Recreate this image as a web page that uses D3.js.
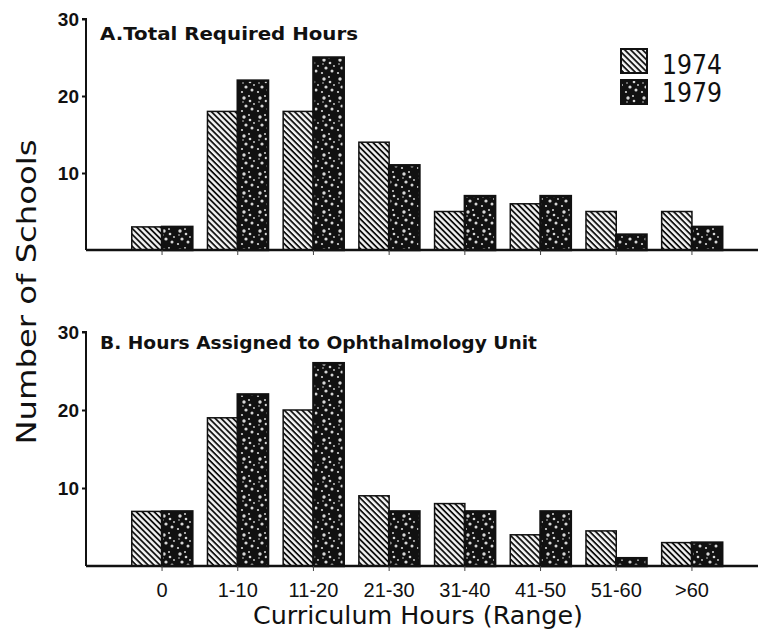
<!DOCTYPE html>
<html><head><meta charset="utf-8">
<script src="https://cdn.jsdelivr.net/npm/d3@7"></script>
<style>body{margin:0;background:#fff;}svg{display:block;font-family:"Century Gothic","DejaVu Sans",sans-serif;}</style>
</head><body>
<script>
const categories = ["0","1-10","11-20","21-30","31-40","41-50","51-60",">60"];
const series = ["1974","1979"];
const totalRequired1974 = [3,18,18,14,5,6,5,5];
const totalRequired1979 = [3,22,25,11,7,7,2,3];
const ophthalmology1974 = [7,19,20,9,8,4,4.5,3];
const ophthalmology1979 = [7,22,26,7,7,7,1,3];
const yTicks = [10,20,30];
const panelTitles = ["A.Total Required Hours","B. Hours Assigned to Ophthalmology Unit"];

const W=760,H=634;
const svg=d3.select("body").append("svg").attr("width",W).attr("height",H);
const defs=svg.append("defs");
const hatch=defs.append("pattern").attr("id","hatch").attr("patternUnits","userSpaceOnUse")
  .attr("width",4.2).attr("height",4.2).attr("patternTransform","rotate(45)");
hatch.append("rect").attr("width",4.2).attr("height",4.2).attr("fill","#f4f4f4");
hatch.append("rect").attr("width",4.2).attr("height",1.8).attr("fill","#111");
const speck=defs.append("pattern").attr("id","speck").attr("patternUnits","userSpaceOnUse")
  .attr("width",16).attr("height",19);
speck.append("rect").attr("width",16).attr("height",19).attr("fill","#111");
[[4,3,1.7],[10,6,1.3],[6,11,1.6],[12,14,1.5],[2,16,1.1],[9,1,1],[14,9,0.9],[3,7,0.8]].forEach(d=>{
  speck.append("circle").attr("cx",d[0]).attr("cy",d[1]).attr("r",d[2]).attr("fill","#d8d8d8");
});

const x=d3.scaleBand().domain(categories).range([124.2,729.8]).paddingInner(0.2).paddingOuter(0.1);
const xs=d3.scaleBand().domain(series).range([0,x.bandwidth()]);

const panels=[
  {title:panelTitles[0],data:[totalRequired1974,totalRequired1979],y0:250,y30:19,tx:100,ty:40,tl:258,labels:false},
  {title:panelTitles[1],data:[ophthalmology1974,ophthalmology1979],y0:566,y30:332,tx:100,ty:349,tl:437,labels:true}
];
panels.forEach(p=>{
  const y=d3.scaleLinear().domain([0,30]).range([p.y0,p.y30]);
  const g=svg.append("g");
  series.forEach((s,si)=>{
    g.selectAll(null).data(p.data[si]).join("rect")
      .attr("x",(d,i)=>x(categories[i])+xs(s))
      .attr("y",d=>y(d)).attr("width",xs.bandwidth()).attr("height",d=>y(0)-y(d))
      .attr("fill",si===0?"url(#hatch)":"url(#speck)")
      .attr("stroke","#111").attr("stroke-width",si===0?1.5:2.5);
  });
  const ya=d3.axisLeft(y).tickValues(yTicks).tickSize(4).tickFormat(d3.format("d"));
  const yg=g.append("g").attr("transform","translate(86,0)").call(ya);
  yg.select(".domain").attr("d",`M-4,${y(30)}H0V${y(0)}`).attr("stroke","#111").attr("stroke-width",2);
  yg.selectAll(".tick line").attr("stroke","#111").attr("stroke-width",2);
  yg.selectAll(".tick text").attr("font-size",19).attr("font-weight","bold").attr("fill","#111").attr("x",-7);
  const xa=d3.axisBottom(x).tickSize(5).tickSizeOuter(0);
  const xg=g.append("g").attr("transform",`translate(0,${p.y0})`).call(xa);
  xg.select(".domain").attr("d",`M86,0H758`).attr("stroke","#111").attr("stroke-width",2.5);
  xg.selectAll(".tick line").attr("stroke","#444").attr("stroke-width",1);
  if(p.labels){
    xg.selectAll(".tick text").attr("font-size",20).attr("fill","#111").attr("y",31).attr("dy",0);
  } else xg.selectAll(".tick text").remove();
  g.append("text").attr("x",p.tx).attr("y",p.ty).attr("font-size",17).attr("font-weight","bold")
    .attr("fill","#111").attr("textLength",p.tl).attr("lengthAdjust","spacingAndGlyphs").text(p.title);
});

// legend
const lg=svg.append("g");
series.forEach((s,i)=>{
  lg.append("rect").attr("x",621).attr("y",49+i*31).attr("width",26).attr("height",24)
    .attr("fill",i===0?"url(#hatch)":"url(#speck)").attr("stroke","#111").attr("stroke-width",2);
  lg.append("text").attr("x",662).attr("y",74+i*28).attr("font-size",27).attr("fill","#111")
    .attr("textLength",60).attr("lengthAdjust","spacingAndGlyphs").text(s);
});

svg.append("text").attr("transform","translate(36,292) rotate(-90)").attr("text-anchor","middle")
  .attr("font-size",26).attr("fill","#111").attr("textLength",305).attr("lengthAdjust","spacingAndGlyphs").text("Number of Schools");
svg.append("text").attr("x",418).attr("y",624).attr("text-anchor","middle")
  .attr("font-size",24).attr("fill","#111").attr("textLength",330).attr("lengthAdjust","spacingAndGlyphs").text("Curriculum Hours (Range)");
</script>
</body></html>
